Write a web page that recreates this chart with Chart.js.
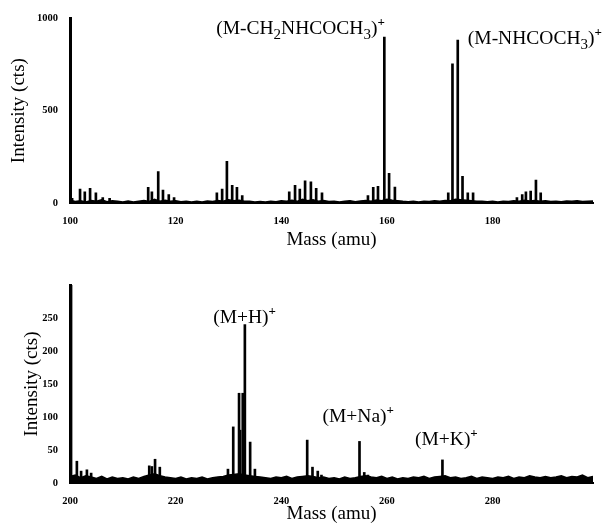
<!DOCTYPE html>
<html>
<head>
<meta charset="utf-8">
<script src="https://cdn.jsdelivr.net/npm/chart.js@4.4.1/dist/chart.umd.min.js"></script>
<style>
  body { margin: 0; background: #fff; }
  #wrap { position: relative; width: 605px; height: 525px; }
  canvas { position: absolute; left: 0; }
</style>
</head>
<body>
<div id="wrap">
  <canvas id="topChart" width="605" height="260" style="top:0"></canvas>
  <canvas id="bottomChart" width="605" height="265" style="top:260px"></canvas>
</div>
<script>
// top spectrum: peaks (mass, counts)
const topMass = [100.4, 101.9, 102.8, 103.8, 104.9, 106.2, 107.5, 114.8, 115.5, 116.7, 117.6, 118.7, 119.7,
  127.8, 128.8, 129.7, 130.7, 131.6, 132.6, 141.5, 142.6, 143.5, 144.5, 145.6, 146.6, 147.7,
  156.4, 157.4, 158.3, 159.5, 160.4, 161.5, 171.6, 172.4, 173.4, 174.3, 175.3, 176.3,
  184.6, 185.6, 186.3, 187.2, 188.2, 189.1];
const topCounts = [25, 75, 60, 80, 55, 30, 25, 85, 60, 170, 70, 45, 30,
  55, 75, 225, 95, 85, 40, 60, 95, 75, 120, 115, 80, 55,
  40, 85, 90, 898, 161, 86, 55, 753, 882, 145, 55, 55,
  30, 45, 60, 65, 124, 55];
// top baseline noise, one value per amu from 100 to 199
const topNoise = [15, 8, 12, 6, 14, 9, 18, 7, 12, 10,
  6, 11, 5, 9, 13, 8, 20, 10, 15, 9,
  12, 7, 10, 5, 9, 6, 11, 8, 14, 10,
  18, 12, 15, 9, 10, 6, 8, 5, 9, 7,
  12, 10, 15, 9, 20, 12, 18, 10, 14, 8,
  10, 6, 9, 12, 7, 11, 14, 10, 16, 12,
  20, 15, 12, 9, 7, 10, 6, 9, 8, 12,
  10, 14, 12, 20, 18, 15, 12, 9, 10, 7,
  9, 6, 10, 8, 12, 9, 15, 11, 14, 10,
  12, 8, 10, 7, 11, 9, 12, 8, 10, 11];

// bottom spectrum
const botMass = [200.2, 201.3, 202.1, 203.2, 204.0, 215.0, 215.5, 216.1, 217.0,
  229.9, 230.9, 232.0, 232.2, 232.7, 233.1, 234.1, 235.0,
  244.9, 245.9, 246.9, 247.6, 254.8, 255.7, 256.4, 270.5];
const botCounts = [320, 33, 18, 20, 15, 26, 25, 36, 24,
  21, 85, 136, 80, 136, 240, 62, 21,
  65, 24, 18, 12, 63, 16, 12, 35];
const botNoise = [10, 12, 8, 11, 9, 7, 10, 6, 9, 7,
  8, 6, 9, 7, 10, 12, 14, 11, 9, 8,
  7, 9, 6, 8, 7, 9, 6, 8, 9, 10,
  12, 13, 14, 12, 11, 10, 9, 8, 7, 9,
  8, 10, 7, 9, 10, 11, 10, 8, 9, 7,
  8, 6, 9, 7, 8, 10, 11, 9, 8, 10,
  7, 9, 6, 8, 7, 9, 8, 10, 7, 9,
  10, 11, 8, 9, 7, 8, 10, 7, 9, 8,
  7, 9, 8, 10, 7, 9, 8, 11, 9, 8,
  10, 8, 9, 11, 8, 10, 9, 12, 8, 10];

// peak labels: "_" = next char subscript, "^" = next char superscript
const topLabels = ["(M-CH_2NHCOCH_3)^+", "(M-NHCOCH_3)^+"];
const topLabelMass = [159.6, 175.3];
const topLabelLevel = [914, 860];
const topLabelAlign = ["right", "left"];

const botLabels = ["(M+H)^+", "(M+Na)^+", "(M+K)^+"];
const botLabelMass = [227.1, 247.8, 265.3];
const botLabelLevel = [242, 92, 58];
const botLabelAlign = ["left", "left", "left"];

const FONT = "'Liberation Serif', 'Times New Roman', serif";

function parseRich(str) {
  const segs = [];
  let cur = "";
  for (let i = 0; i < str.length; i++) {
    const c = str[i];
    if ((c === "_" || c === "^") && i + 1 < str.length) {
      if (cur) segs.push({ text: cur, kind: "n" });
      cur = "";
      segs.push({ text: str[i + 1], kind: c === "_" ? "sub" : "sup" });
      i++;
    } else {
      cur += c;
    }
  }
  if (cur) segs.push({ text: cur, kind: "n" });
  return segs;
}

function segFont(kind) {
  if (kind === "n") return "19.5px " + FONT;
  if (kind === "sub") return "15px " + FONT;
  return "bold 13px " + FONT;
}

function labelPlugin(texts, masses, levels, aligns) {
  return {
    id: "peakLabels",
    afterDraw(chart) {
      const ctx = chart.ctx;
      const xs = chart.scales.x, ys = chart.scales.y;
      ctx.save();
      ctx.fillStyle = "#000";
      ctx.textBaseline = "alphabetic";
      texts.forEach((t, i) => {
        const segs = parseRich(t);
        let w = 0;
        segs.forEach(s => {
          ctx.font = segFont(s.kind);
          s.w = ctx.measureText(s.text).width;
          w += s.w;
        });
        let px = xs.getPixelForValue(masses[i]);
        if (aligns[i] === "right") px -= w;
        else if (aligns[i] === "center") px -= w / 2;
        const py = ys.getPixelForValue(levels[i]);
        segs.forEach(s => {
          ctx.font = segFont(s.kind);
          const dy = s.kind === "sub" ? 5 : (s.kind === "sup" ? -8 : 0);
          ctx.fillText(s.text, px, py + dy);
          px += s.w;
        });
      });
      ctx.restore();
    }
  };
}

function makeSpectrum(id, opts) {
  const peaks = opts.mass.map((m, i) => ({ x: m, y: opts.counts[i] }));
  const noise = opts.noise.map((v, i) => ({ x: opts.xMin + i, y: v }));
  const tickFont = { family: FONT, size: 10.5, weight: "bold" };
  const titleFont = { family: FONT, size: 19, lineHeight: 1 };
  return new Chart(document.getElementById(id), {
    data: {
      datasets: [
        {
          type: "line",
          data: noise,
          borderColor: "#000",
          backgroundColor: "#000",
          fill: "origin",
          borderWidth: 1.5,
          pointRadius: 0,
          tension: 0
        },
        {
          type: "bar",
          data: peaks,
          backgroundColor: "#000",
          borderWidth: 0,
          barThickness: 2
        }
      ]
    },
    options: {
      responsive: false,
      animation: false,
      layout: { padding: { top: opts.padTop, right: 12, left: 0, bottom: 0 } },
      plugins: { legend: { display: false }, tooltip: { enabled: false } },
      scales: {
        x: {
          type: "linear",
          offset: false,
          min: opts.xMin,
          max: opts.xMin + 99,
          grid: { display: false, drawTicks: false },
          border: { display: true, color: "#000", width: 2 },
          ticks: {
            stepSize: 20,
            padding: opts.xTickPad,
            color: "#000",
            font: tickFont,
            maxRotation: 0,
            callback: v => (v % 20 === 0 ? v : "")
          },
          title: {
            display: true,
            text: "Mass (amu)",
            color: "#000",
            font: titleFont,
            padding: { top: 0, bottom: opts.xTitlePad }
          },
          afterFit: s => { s.height = opts.xHeight; }
        },
        y: {
          min: 0,
          max: opts.yMax,
          grid: { display: false, drawTicks: false },
          border: { display: true, color: "#000", width: 3 },
          ticks: {
            stepSize: opts.yStep,
            padding: 12,
            color: "#000",
            font: tickFont,
            callback: v => (v === opts.yHide ? "" : v)
          },
          title: {
            display: true,
            text: "Intensity (cts)",
            color: "#000",
            font: titleFont,
            padding: { top: opts.yTitlePad, bottom: 0 }
          },
          afterFit: s => { s.width = 70; }
        }
      }
    },
    plugins: [labelPlugin(opts.labels, opts.labelMass, opts.labelLevel, opts.labelAlign)]
  });
}

makeSpectrum("topChart", {
  mass: topMass, counts: topCounts, noise: topNoise, xMin: 100,
  yMax: 1000, yStep: 500, yHide: null, padTop: 17,
  xHeight: 57, xTickPad: 12, xTitlePad: 10, yTitlePad: 10,
  labels: topLabels, labelMass: topLabelMass, labelLevel: topLabelLevel, labelAlign: topLabelAlign
});

makeSpectrum("bottomChart", {
  mass: botMass, counts: botCounts, noise: botNoise, xMin: 200,
  yMax: 300, yStep: 50, yHide: 300, padTop: 25,
  xHeight: 42, xTickPad: 12, xTitlePad: 1, yTitlePad: 23,
  labels: botLabels, labelMass: botLabelMass, labelLevel: botLabelLevel, labelAlign: botLabelAlign
});
</script>
</body>
</html>
